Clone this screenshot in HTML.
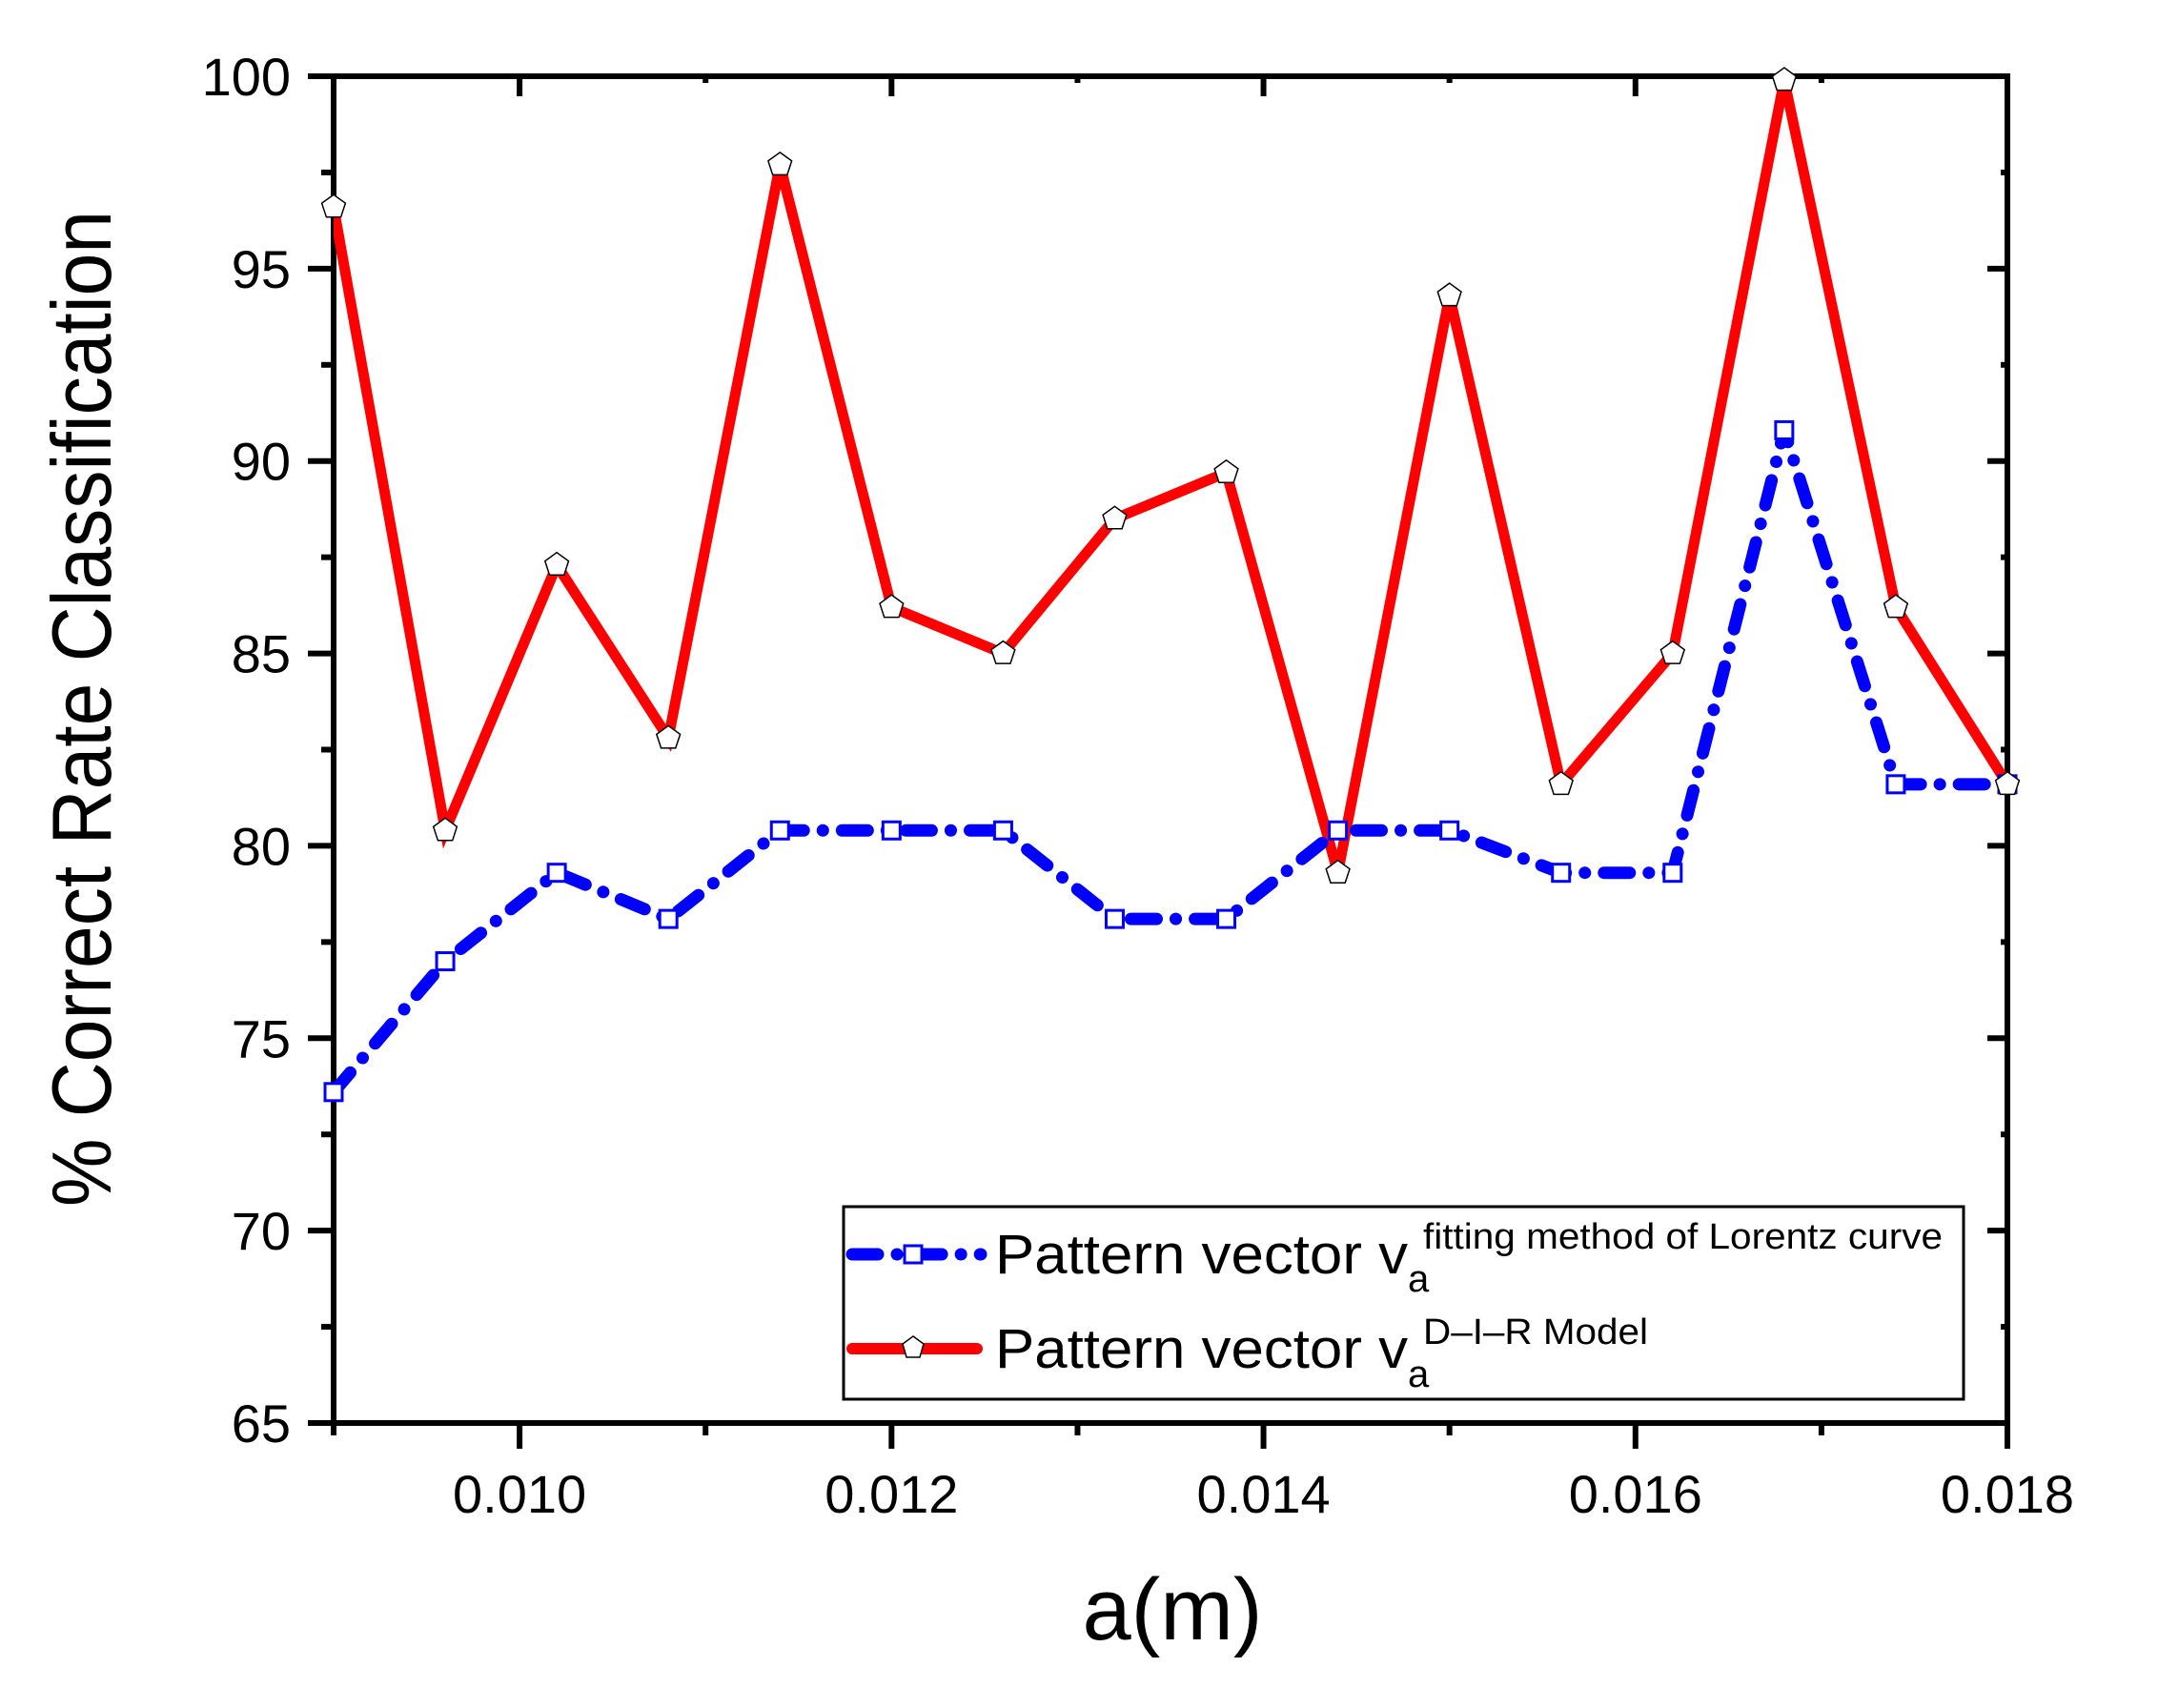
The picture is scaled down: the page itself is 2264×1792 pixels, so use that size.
<!DOCTYPE html>
<html><head><meta charset="utf-8"><style>
html,body{margin:0;padding:0;background:#fff}
svg{display:block}
text{font-family:"Liberation Sans",Arial,sans-serif;fill:#000}
</style></head><body>
<svg id="chart" width="2264" height="1792" viewBox="0 0 2264 1792" xmlns="http://www.w3.org/2000/svg">
<g id="grid"></g>
<g id="series"></g>
<text transform="translate(116,1266) rotate(-90)" font-size="88" textLength="1045" lengthAdjust="spacingAndGlyphs">% Correct Rate Classification</text>
<text x="1230" y="1720" font-size="92" text-anchor="middle">a(m)</text>
<g>
<rect x="885" y="1266" width="1175" height="202" fill="#fff" stroke="#000" stroke-width="3"/>
<line x1="894" y1="1316" x2="1029" y2="1316" stroke="#0000ff" stroke-width="13" stroke-linecap="round" stroke-dasharray="27 20 0.1 20"/>
<rect x="949" y="1307" width="18" height="18" fill="#fff" stroke="#0000ff" stroke-width="3"/>
<text x="1044" y="1336" font-size="58" textLength="433" lengthAdjust="spacingAndGlyphs">Pattern vector v</text>
<text x="1477" y="1355" font-size="40">a</text>
<text x="1493" y="1310" font-size="38" textLength="545" lengthAdjust="spacingAndGlyphs">fitting method of Lorentz curve</text>
<line x1="894" y1="1415" x2="1025" y2="1415" stroke="#ff0000" stroke-width="12" stroke-linecap="round"/>
<polygon points="958,1402 969,1410 965,1424 951,1424 947,1410" fill="#fff" stroke="#000" stroke-width="1.5"/>
<text x="1044" y="1435" font-size="58" textLength="433" lengthAdjust="spacingAndGlyphs">Pattern vector v</text>
<text x="1477" y="1455" font-size="40">a</text>
<text x="1493" y="1410" font-size="38" textLength="236" lengthAdjust="spacingAndGlyphs">D–I–R Model</text>
</g>
</svg>
<script>
const xValues=[0.009,0.0096,0.0102,0.0108,0.0114,0.012,0.0126,0.0132,0.0138,0.0144,0.015,0.0156,0.0162,0.0168,0.0174,0.018];
const lorentzValues=[73.6,77.0,79.3,78.1,80.4,80.4,80.4,78.1,78.1,80.4,80.4,79.3,79.3,90.8,81.6,81.6];
const dirValues=[96.6,80.4,87.3,82.8,97.7,86.2,85.0,88.5,89.7,79.3,94.3,81.6,85.0,99.9,86.2,81.6];
const xTickLabels=["0.010","0.012","0.014","0.016","0.018"];
const yTickLabels=["65","70","75","80","85","90","95","100"];

const L=350,R=2106,T=80,B=1493;
const X0=0.009,X1=0.018,Y0=65,Y1=100;
function xs(v){return L+(v-X0)/(X1-X0)*(R-L);}
function ys(v){return B-(v-Y0)/(Y1-Y0)*(B-T);}
const NS="http://www.w3.org/2000/svg";
function mk(tag,attrs,parent){const e=document.createElementNS(NS,tag);for(const k in attrs)e.setAttribute(k,attrs[k]);parent.appendChild(e);return e;}
const grid=document.getElementById('grid');
const ser=document.getElementById('series');

for(let i=0;i<=9;i++){
  const v=X0+i*0.001; const x=xs(v); const major=(i%2===1);
  const len=major?27:13;
  let t=mk('line',{x1:x,y1:B,x2:x,y2:B+len,stroke:'#000','stroke-width':6},grid);
  
  
  let t2=mk('line',{x1:x,y1:T,x2:x,y2:T+len-6,stroke:'#000','stroke-width':6},grid);
  
  
}
xTickLabels.forEach((s)=>{
  const tx=mk('text',{x:xs(parseFloat(s)),y:1587,'font-size':56,'text-anchor':'middle'},grid);
  tx.textContent=s;
  
  
});
for(let i=0;i<=14;i++){
  const v=Y0+i*2.5; const y=ys(v); const major=(i%2===0);
  const len=major?27:13;
  let t=mk('line',{x1:L-len,y1:y,x2:L,y2:y,stroke:'#000','stroke-width':6},grid);
  
  
  let t2=mk('line',{x1:R,y1:y,x2:R-len+6,y2:y,stroke:'#000','stroke-width':6},grid);
  
  
}
yTickLabels.forEach((s)=>{
  const tx=mk('text',{x:305,y:ys(parseFloat(s))+20,'font-size':56,'text-anchor':'end'},grid);
  tx.textContent=s;
  
  
});
const frame=mk('rect',{x:L,y:T,width:R-L,height:B-T,fill:'none',stroke:'#000','stroke-width':6},grid);



const clip=mk('clipPath',{id:'pc'},ser);
mk('rect',{x:L,y:T-20,width:R-L,height:B-T+20},clip);
const rp=xValues.map((v,i)=>xs(v)+','+ys(dirValues[i])).join(' ');
const red=mk('polyline',{points:rp,fill:'none',stroke:'#ff0000','stroke-width':11,'stroke-linejoin':'miter','clip-path':'url(#pc)'},ser);


const bp=xValues.map((v,i)=>xs(v)+','+ys(lorentzValues[i])).join(' ');
const blue=mk('polyline',{points:bp,fill:'none',stroke:'#0000ff','stroke-width':13,'stroke-linecap':'round','stroke-linejoin':'round','stroke-dasharray':'27 20 0.1 20','clip-path':'url(#pc)'},ser);


xValues.forEach((v,i)=>{
  const x=xs(v),y=ys(lorentzValues[i]);
  const s=mk('rect',{x:x-9,y:y-9,width:18,height:18,fill:'#fff',stroke:'#0000ff','stroke-width':3},ser);
  
  
});
xValues.forEach((v,i)=>{
  const x=xs(v),y=ys(dirValues[i]);const r=13;let pts=[];
  for(let k=0;k<5;k++){const a=-Math.PI/2+k*2*Math.PI/5;pts.push((x+r*Math.cos(a)).toFixed(1)+','+(y+r*Math.sin(a)).toFixed(1));}
  const p=mk('polygon',{points:pts.join(' '),fill:'#fff',stroke:'#000','stroke-width':1.5},ser);
  
  
});
</script>
</body></html>
